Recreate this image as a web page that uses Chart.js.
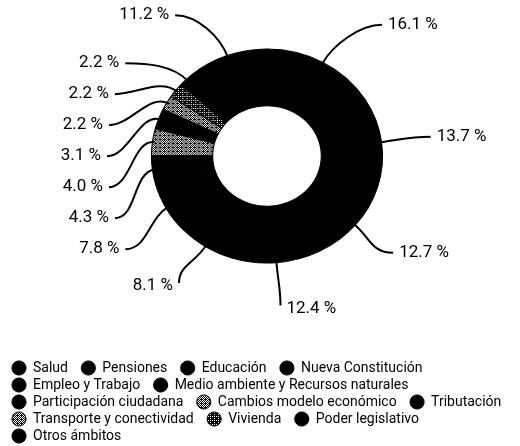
<!DOCTYPE html>
<html>
<head>
<meta charset="utf-8">
<script src="https://cdn.jsdelivr.net/npm/chart.js@4"></script>
<style>
  body { margin: 0; background: #fff; }
</style>
</head>
<body>
<canvas id="chart" width="520" height="446"></canvas>
<script>
  const categories = ["Salud", "Pensiones", "Educación", "Nueva Constitución", "Empleo y Trabajo",
    "Medio ambiente y Recursos naturales", "Participación ciudadana", "Cambios modelo económico",
    "Tributación", "Transporte y conectividad", "Vivienda", "Poder legislativo", "Otros ámbitos"];
  const shares = [16.1, 13.7, 12.7, 12.4, 8.1, 7.8, 4.3, 4.0, 3.1, 2.2, 2.2, 2.2, 11.2];
  // texture per slice: 0 = solid black, higher = more white speckle (out of 16)
  const speckles = [0, 0, 0, 0, 0, 0, 0, 7, 0, 7, 3, 0, 0];

  const FONT = "Roboto, 'DejaVu Sans Condensed', sans-serif";
  const STRETCH_X = 1.08;   // the printed ring is a bit wider than tall
  const SHIFT_X = 2.5;

  const bayer = [[0, 8, 2, 10], [12, 4, 14, 6], [3, 11, 1, 9], [15, 7, 13, 5]];
  function speckle(level) {
    if (!level) return "#000";
    const c = document.createElement("canvas");
    c.width = c.height = 4;
    const g = c.getContext("2d");
    g.fillStyle = "#000";
    g.fillRect(0, 0, 4, 4);
    g.fillStyle = "#fff";
    for (let y = 0; y < 4; y++)
      for (let x = 0; x < 4; x++)
        if (bayer[y][x] < level) g.fillRect(x, y, 1, 1);
    return g.createPattern(c, "repeat");
  }

  const ringShape = {
    id: "ringShape",
    beforeDatasetsDraw(chart) {
      const arc = chart.getDatasetMeta(0).data[0];
      const ctx = chart.ctx;
      ctx.save();
      ctx.translate(arc.x + SHIFT_X, arc.y);
      ctx.scale(STRETCH_X, 1);
      ctx.translate(-arc.x, -arc.y);
    },
    afterDatasetsDraw(chart) {
      chart.ctx.restore();
    }
  };

  const leaders = {
    id: "leaders",
    afterDraw(chart) {
      const ctx = chart.ctx;
      const arcs = chart.getDatasetMeta(0).data;
      const cx = arcs[0].x + SHIFT_X, cy = arcs[0].y;
      const items = arcs.map((arc, i) => {
        const a = (arc.startAngle + arc.endAngle) / 2;
        const ux = Math.cos(a), uy = Math.sin(a);
        const R = arc.outerRadius - 2;
        const kind = uy < -0.8 ? "top" : uy > 0.8 ? "bottom" : "side";
        const d = {
          i, ux, uy, kind,
          side: ux >= 0 ? 1 : -1,
          ax: cx + R * STRETCH_X * ux,
          ay: cy + R * uy,
          ex: cx + 165 * ux,
          ey: cy + 150 * uy
        };
        if (kind === "top") d.ex += d.side * 35;
        return d;
      });

      // small slices on the left get stacked into a column
      const left = items.filter(d => d.side < 0).sort((p, q) => p.ey - q.ey);
      for (let k = 1; k < left.length; k++) {
        const gap = left[k - 1].kind === "top" ? 48 : 31;
        left[k].ey = Math.max(left[k].ey, left[k - 1].ey + gap);
      }
      left.forEach(d => {
        if (d.kind === "side") {
          const t = (d.ey - cy) / 200;
          d.ex = cx - 160 * Math.sqrt(Math.max(0, 1 - t * t));
        }
      });

      ctx.save();
      ctx.strokeStyle = "#000";
      ctx.lineWidth = 2;
      ctx.fillStyle = "#000";
      ctx.font = "17px " + FONT;
      ctx.textBaseline = "middle";
      items.forEach(d => {
        const c2x = d.kind === "bottom" ? d.ex : d.ex - d.side * 22;
        const c2y = d.kind === "bottom" ? d.ey - 18 : d.ey;
        ctx.beginPath();
        ctx.moveTo(d.ax, d.ay);
        ctx.bezierCurveTo(d.ax + d.ux * 22, d.ay + d.uy * 22, c2x, c2y, d.ex, d.ey);
        ctx.stroke();
        ctx.textAlign = d.side > 0 ? "left" : "right";
        const ty = d.kind === "bottom" ? d.ey + 3 : d.ey;
        ctx.fillText(shares[d.i].toFixed(1) + " %", d.ex + d.side * 6, ty);
      });
      ctx.restore();
    }
  };

  new Chart(document.getElementById("chart"), {
    type: "doughnut",
    data: {
      labels: categories,
      datasets: [{
        data: shares,
        backgroundColor: speckles.map(speckle),
        borderColor: "#000",
        borderWidth: 1
      }]
    },
    options: {
      responsive: false,
      animation: false,
      radius: 107,
      cutout: "47%",
      layout: { padding: { left: 9, top: 0, right: 0, bottom: -7 } },
      plugins: {
        tooltip: { enabled: false },
        legend: {
          position: "bottom",
          align: "start",
          // empty title only used as a spacer above the legend rows
          title: { display: true, text: "", font: { size: 12, lineHeight: 1 }, padding: { top: 34, bottom: 0 } },
          labels: {
            usePointStyle: true,
            pointStyle: "circle",
            boxWidth: 14,
            boxHeight: 10,
            padding: 3,
            color: "#000",
            font: { family: FONT, size: 14 },
            generateLabels(chart) {
              const items = Chart.overrides.doughnut.plugins.legend.labels.generateLabels(chart);
              items.forEach(it => { it.text += "   "; });
              return items;
            }
          }
        }
      }
    },
    plugins: [ringShape, leaders]
  });
</script>
</body>
</html>
